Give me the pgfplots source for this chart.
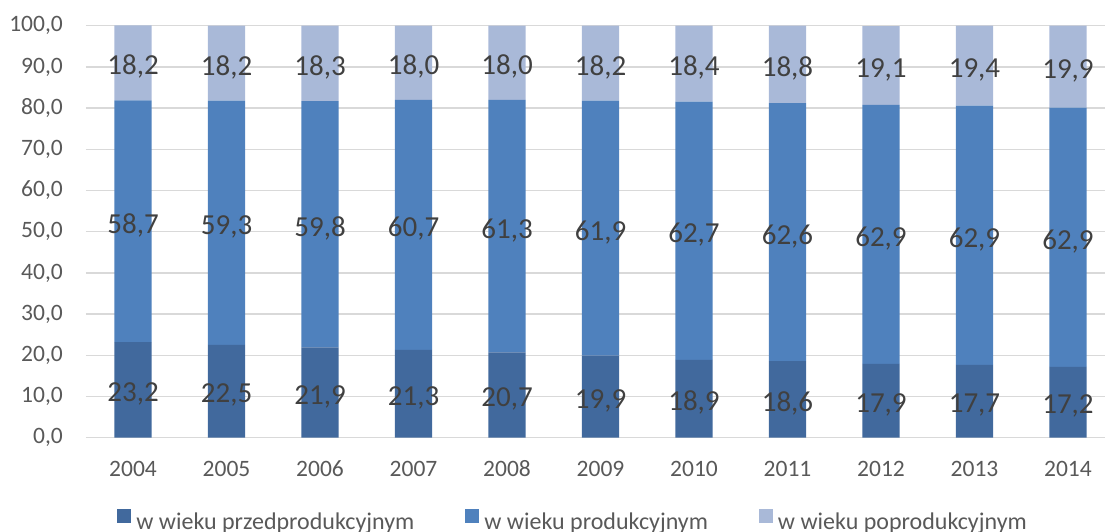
\documentclass[border=0pt]{standalone}
\usepackage{fontspec}
\setmainfont{Carlito}
\usepackage{pgfplots}
\pgfplotsset{compat=1.18}
\usepackage{pgfplotstable}

\definecolor{cdark}{HTML}{41699D}
\definecolor{cmid}{HTML}{4F81BD}
\definecolor{clight}{HTML}{A9B9D8}
\definecolor{cgrid}{HTML}{D9D9D9}
\definecolor{ctick}{HTML}{595959}
\definecolor{clabel}{HTML}{404040}

\pgfplotstableread{
x a b c
0 23.2 58.7 18.2
1 22.5 59.3 18.2
2 21.9 59.8 18.3
3 21.3 60.7 18.0
4 20.7 61.3 18.0
5 19.9 61.9 18.2
6 18.9 62.7 18.4
7 18.6 62.6 18.8
8 17.9 62.9 19.1
9 17.7 62.9 19.4
10 17.2 62.9 19.9
}\data

\pgfplotstableread{
x yb ym yt a b c
0 11.6 52.55 91.0 23.2 58.7 18.2
1 11.25 52.15 90.9 22.5 59.3 18.2
2 10.95 51.8 90.85 21.9 59.8 18.3
3 10.65 51.65 91.0 21.3 60.7 18.0
4 10.35 51.35 91.0 20.7 61.3 18.0
5 9.95 50.85 90.9 19.9 61.9 18.2
6 9.45 50.25 90.8 18.9 62.7 18.4
7 9.3 49.9 90.6 18.6 62.6 18.8
8 8.95 49.35 90.35 17.9 62.9 19.1
9 8.85 49.15 90.3 17.7 62.9 19.4
10 8.6 48.65 90.05 17.2 62.9 19.9
}\lab

\pgfplotsset{
  common/.style={
    scale only axis, width=1019pt, height=412pt,
    xmin=-0.503, xmax=10.396, ymin=0, ymax=100,
  }
}

\begin{document}
\begin{tikzpicture}
\begin{axis}[
  common,
  ybar stacked, bar width=0.4,
  xtick={0,1,2,3,4,5,6,7,8,9,10},
  xticklabels={2004,2005,2006,2007,2008,2009,2010,2011,2012,2013,2014},
  ytick={0,10,...,100},
  ymajorgrids, grid style={cgrid, line width=1.5pt},
  axis line style={draw=none},
  major tick length=0pt,
  tick label style={font=\fontsize{23.5}{28}\selectfont, text=ctick, inner sep=0pt},
  yticklabel style={anchor=east, xshift=-23pt, /pgf/number format/.cd, fixed, fixed zerofill, precision=1, use comma, assume math mode=true},
  xticklabel style={anchor=north, yshift=-23pt},
  legend columns=3,
  legend image code/.code={\fill[#1] (0pt,-1pt) rectangle (14pt,13pt);},
  legend style={at={(0.477,-0.2),}, anchor=center, draw=none, fill=none,
    font=\fontsize{24}{28}\selectfont, text=ctick,
    nodes={inner sep=0pt},
    /tikz/every odd column/.append style={column sep=5pt},
    /tikz/every even column/.append style={column sep=51pt}},
]
\addplot[fill=cdark, draw=none] table[x=x, y=a] {\data};
\addlegendentry{w wieku przedprodukcyjnym}
\addplot[fill=cmid, draw=none] table[x=x, y=b] {\data};
\addlegendentry{w wieku produkcyjnym}
\addplot[fill=clight, draw=none] table[x=x, y=c] {\data};
\addlegendentry{w wieku poprodukcyjnym}
\end{axis}
\begin{axis}[
  common, hide axis, clip=false,
  nodes near coords,
  point meta=explicit,
  nodes near coords style={anchor=center, yshift=-4pt, inner sep=0pt,
    font=\fontsize{29}{34}\selectfont, text=clabel,
    /pgf/number format/.cd, fixed, fixed zerofill, precision=1, use comma, assume math mode=true},
]
\addplot[draw=none, mark=none] table[x=x, y=yb, meta=a] {\lab};
\addplot[draw=none, mark=none] table[x=x, y=ym, meta=b] {\lab};
\addplot[draw=none, mark=none] table[x=x, y=yt, meta=c] {\lab};
\end{axis}
\pgfresetboundingbox
\path[use as bounding box] (-86pt,-94.3pt) rectangle (1019pt,437.7pt);
\end{tikzpicture}
\end{document}
